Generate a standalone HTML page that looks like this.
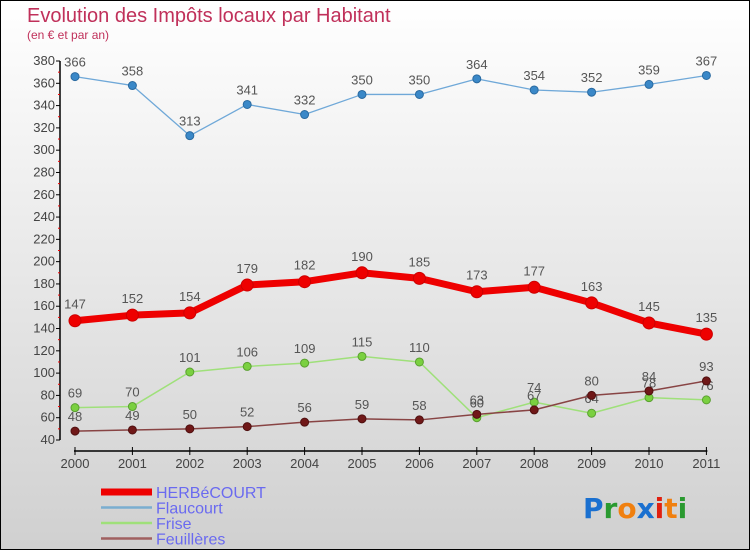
<!DOCTYPE html>
<html><head><meta charset="utf-8"><style>
body{margin:0;width:750px;height:550px;overflow:hidden;font-family:"Liberation Sans",sans-serif}
#wrap{position:relative;width:748px;height:548px;border:1px solid #000;background:linear-gradient(#ffffff,#d0d0d0)}
</style></head><body>
<div id="wrap">
<svg id="c" width="748" height="548"></svg>
</div>
<script>
const years=["2000","2001","2002","2003","2004","2005","2006","2007","2008","2009","2010","2011"];
const herbe=[147,152,154,179,182,190,185,173,177,163,145,135];
const flaucourt=[366,358,313,341,332,350,350,364,354,352,359,367];
const frise=[69,70,101,106,109,115,110,60,74,64,78,76];
const feuilleres=[48,49,50,52,56,59,58,63,67,80,84,93];
const yTicks=[40,60,80,100,120,140,160,180,200,220,240,260,280,300,320,340,360,380];
const NS="http://www.w3.org/2000/svg";
const svg=document.getElementById('c');
function X(i){return 74+i*57.4;}
function Y(v){return 439-(v-40)*379/340;}
function el(t,a,p){const e=document.createElementNS(NS,t);for(const k in a)e.setAttribute(k,a[k]);(p||svg).appendChild(e);return e;}
function tx(x,y,s,size,fill,anchor){const e=el('text',{x:x,y:y,'font-size':size,fill:fill,'text-anchor':anchor||'start'});e.textContent=s;return e;}
let t=tx(26,21,'Evolution des Impôts locaux par Habitant',20,'#c0305a');


t=tx(26,38,'(en € et par an)',12,'#c0305a');


let a=el('line',{x1:59,y1:Y(380),x2:59,y2:Y(40),stroke:'#000','stroke-width':1.5});


yTicks.forEach((v,i)=>{
  el('line',{x1:55,y1:Y(v),x2:59,y2:Y(v),stroke:'#000'});
  if(i<yTicks.length-1)el('line',{x1:57,y1:Y(v+10),x2:59,y2:Y(v+10),stroke:'#e00'});
  const l=tx(54,Y(v)+4,String(v),13,'#444','end');
  
  
});
a=el('line',{x1:X(0)-1,y1:450,x2:X(11)+1,y2:450,stroke:'#000','stroke-width':1.5});


years.forEach((y,i)=>{
  el('line',{x1:X(i),y1:446,x2:X(i),y2:454,stroke:'#000'});
  const l=tx(X(i),467,y,13,'#444','middle');
  
  
});
function series(name,data,color,w,r,dot,dotStroke,fs){
  const g=el('g',{});
  
  
  el('polyline',{points:data.map((v,i)=>X(i)+','+Y(v)).join(' '),fill:'none',stroke:color,'stroke-width':w,'stroke-linejoin':'round'},g);
  data.forEach((v,i)=>{
    const c=el('circle',{cx:X(i),cy:Y(v),r:r,fill:dot,stroke:dotStroke,'stroke-width':1},g);
    
    
    const l=tx(X(i),Y(v)-(r+6),String(v),fs,'#555','middle');
    g.appendChild(l);
  });
}
series('flaucourt',flaucourt,'#6fa8d8',1.3,4,'#3a88c8','#2a6aa0',13);
series('frise',frise,'#9fe07a',1.5,4,'#7ad040','#5aa030',13);
series('feuilleres',feuilleres,'#884444',1.5,4,'#701818','#501010',13);
series('herbecourt',herbe,'#ee0000',7,6,'#ee0000','#cc0000',13);
const leg=[['HERBéCOURT','#ee0000',7],['Flaucourt','#7aaed0',2.5],['Frise','#9fe07a',2.5],['Feuillères','#a06060',2.5]];
leg.forEach((L,i)=>{
  const y=491+i*15.5;
  const g=el('g',{});
  
  
  el('line',{x1:100,y1:y,x2:151,y2:y,stroke:L[1],'stroke-width':L[2]},g);
  const l=tx(155,y+6,L[0],16,'#6a6af0');
  g.appendChild(l);
});
const lg=el('text',{x:582,y:517,'font-size':28,'font-weight':'bold','font-family':'DejaVu Sans, sans-serif'});


[['P','#1a70d0'],['r','#2a9a30'],['o','#f08010'],['x','#1a70d0'],['i','#e02010'],['t','#f08010'],['i','#2a9a30']].forEach(p=>{const s=el('tspan',{fill:p[1]},lg);s.textContent=p[0];});
</script>
</body></html>
